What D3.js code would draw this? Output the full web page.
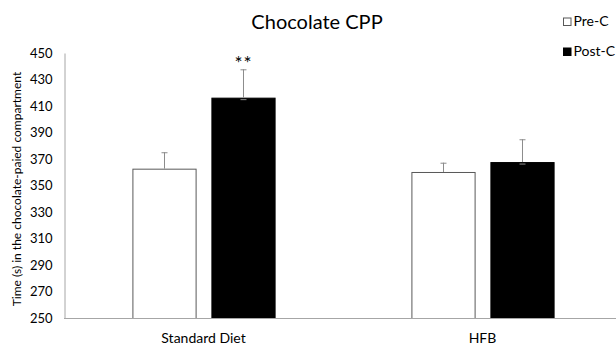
<!DOCTYPE html>
<html><head><meta charset="utf-8">
<script src="https://cdn.jsdelivr.net/npm/d3@7"></script>
<style>body{margin:0;background:#fff}svg{display:block}text{font-family:Lato,"Open Sans",sans-serif}</style>
</head><body><svg id="c" width="616" height="347"></svg>
<script>
const categories = ["Standard Diet", "HFB"];
const seriesNames = ["Pre-C", "Post-C"];
const preValues = [362.7, 360.2];
const postValues = [416.3, 367.7];
const preErrors = [12.4, 7.0];
const postErrors = [21.4, 17.2];
const yTicks = [250, 270, 290, 310, 330, 350, 370, 390, 410, 430, 450];
const significance = ["**", ""];

const svg = d3.select("#c");
const mLeft = 64, mRight = 622, mTop = 53, mBottom = 318;
const x0 = d3.scaleBand().domain(categories).range([mLeft, mRight]).paddingInner(0).paddingOuter(0);
const x1 = d3.scaleBand().domain(seriesNames).range([0, x0.bandwidth()]).paddingInner(0.2).paddingOuter(0.866);
const y = d3.scaleLinear().domain([250, 450]).range([mBottom, mTop]);

const data = categories.map((c, i) => ({
  cat: c, sig: significance[i],
  vals: [
    {s: "Pre-C", v: preValues[i], e: preErrors[i]},
    {s: "Post-C", v: postValues[i], e: postErrors[i]}
  ]
}));

// y axis
const yAxis = d3.axisLeft(y).tickValues(yTicks).tickSize(0).tickPadding(12);
const gy = svg.append("g").attr("transform", `translate(${mLeft + 0.5},0)`).call(yAxis);
gy.select(".domain").attr("stroke", "#a6a6a6").attr("stroke-width", 1);
gy.selectAll("text").attr("font-size", 13).attr("fill", "#000").attr("font-family", "Lato");

// groups
const g = svg.append("g").selectAll("g").data(data).join("g")
  .attr("transform", d => `translate(${x0(d.cat)},0)`);

g.selectAll("rect").data(d => d.vals).join("rect")
  .attr("x", d => x1(d.s) + 0.5)
  .attr("y", d => y(d.v) + 0.5)
  .attr("width", x1.bandwidth())
  .attr("height", d => mBottom - y(d.v))
  .attr("fill", d => d.s === "Pre-C" ? "#fff" : "#000")
  .attr("stroke", d => d.s === "Pre-C" ? "#595959" : "#000")
  .attr("stroke-width", 1);

// error bars
const eb = g.selectAll("g.eb").data(d => d.vals).join("g").attr("class", "eb");
eb.append("line")
  .attr("x1", d => x1(d.s) + x1.bandwidth() / 2 + 0.5)
  .attr("x2", d => x1(d.s) + x1.bandwidth() / 2 + 0.5)
  .attr("y1", d => y(d.v))
  .attr("y2", d => y(d.v + d.e))
  .attr("stroke", "#8c8c8c").attr("stroke-width", 1);
eb.append("line")
  .attr("x1", d => x1(d.s) + x1.bandwidth() / 2 - 2.5)
  .attr("x2", d => x1(d.s) + x1.bandwidth() / 2 + 3.5)
  .attr("y1", d => y(d.v + d.e) + 0.5)
  .attr("y2", d => y(d.v + d.e) + 0.5)
  .attr("stroke", "#8c8c8c").attr("stroke-width", 1);
eb.filter(d => d.s === "Post-C").append("line")
  .attr("x1", d => x1(d.s) + x1.bandwidth() / 2 - 2.5)
  .attr("x2", d => x1(d.s) + x1.bandwidth() / 2 + 3.5)
  .attr("y1", d => y(d.v) + 2)
  .attr("y2", d => y(d.v) + 2)
  .attr("stroke", "#8c8c8c").attr("stroke-width", 1);

// significance
g.append("text")
  .attr("x", d => x1("Post-C") + x1.bandwidth() / 2 + 0.5)
  .attr("y", d => y(d.vals[1].v + d.vals[1].e) + 1)
  .attr("text-anchor", "middle")
  .attr("font-size", 19)
  .attr("letter-spacing", 1)
  .text(d => d.sig);

// x axis
svg.append("line").attr("x1", mLeft).attr("x2", 616).attr("y1", mBottom + 0.5).attr("y2", mBottom + 0.5)
  .attr("stroke", "#a6a6a6");
svg.append("g").selectAll("text").data(categories).join("text")
  .attr("x", d => x0(d) + x0.bandwidth() / 2)
  .attr("y", 343)
  .attr("text-anchor", "middle")
  .attr("font-size", 14)
  .text(d => d);

// title
svg.append("text").attr("x", 317).attr("y", 29).attr("text-anchor", "middle")
  .attr("font-size", 20).text("Chocolate CPP");

// y label
svg.append("text").attr("transform", "translate(21,189) rotate(-90)")
  .attr("text-anchor", "middle").attr("font-size", 12)
  .text("Time (s) in the chocolate-paied compartment");

// legend
const lg = svg.append("g").selectAll("g").data(seriesNames).join("g")
  .attr("transform", (d, i) => `translate(563,${17.5 + i * 30})`);
lg.append("rect").attr("x", 0.5).attr("y", 0.5).attr("width", 7.5).attr("height", 7.5)
  .attr("fill", d => d === "Pre-C" ? "#fff" : "#000").attr("stroke", d => d === "Pre-C" ? "#595959" : "#000");
lg.append("text").attr("x", 10.5).attr("y", 8.5).attr("font-size", 14).text(d => d);
</script></body></html>
